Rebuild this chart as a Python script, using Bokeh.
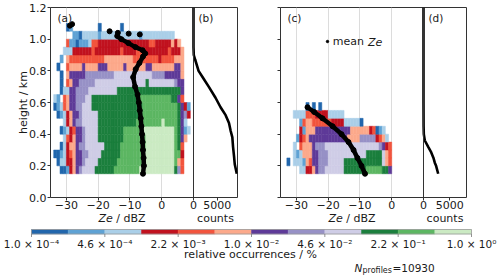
from bokeh.plotting import figure
from bokeh.models import (Range1d, FixedTicker, Span, Label, Legend, LegendItem,
                          ColumnDataSource, PrintfTickFormatter)
from bokeh.core.properties import value
from bokeh.layouts import row, column
from bokeh.embed import file_html
from bokeh.resources import INLINE

FONT = "DejaVu Sans"

# ---------------- data ----------------
ze_bin_start = -35.0          # lower edge of first Ze bin (dBZ)
ze_bin_width = 1.0
height_bin_start = 0.15       # lower edge of first height bin (km)
height_bin_width = 0.05
ze_limits = (-35, 10)
height_limits = (0.0, 1.2)

# 12 classes of relative occurrence (log spaced, 1e-4 ... 1e0)
level_colors = ["#2166ac", "#5fa2d4", "#aacfe8",
                "#c1121f", "#f2543d", "#fca98b",
                "#5e3a98", "#9791c6", "#cfcde6",
                "#1b7f3d", "#5cb662", "#cbeac3"]
colorbar_tick_index = [0, 2, 4, 6, 8, 10, 12]
colorbar_tick_labels = ["1.0 × 10⁻⁴", "4.6 × 10⁻⁴", "2.2 × 10⁻³", "1.0 × 10⁻²",
                        "4.6 × 10⁻²", "2.2 × 10⁻¹", "1.0 × 10⁰"]

ze_ticks = [-30, -20, -10, 0]
ze_tick_labels = ["−30", "−20", "−10", "0"]
height_ticks = [0.0, 0.2, 0.4, 0.6, 0.8, 1.0, 1.2]
count_ticks = [0, 5000]

# CFAD occurrence class per (height row, Ze bin); run-length coded,
# token = <count><class>, class '.' = empty, '1'..'9','a','b','c' = class 1..12
# rows from bottom (0.15 km) upwards, bins from -35 dBZ
occ_a = [
    "3. 21 12 14 16 17 18 49 6a 8b 11c 1a 18 15",
    "2. 11 23 24 16 27 18 49 6a 8b 10c 1b 16 15",
    "1. 21 12 13 14 15 16 27 28 49 6a 7b 10c 2b 14",
    "3. 11 13 14 26 17 28 69 5a 8b 9c 1b 1a 15",
    "4. 13 15 14 16 27 18 49 8a 7b 9c 1b 1a 17 16",
    "3. 11 12 13 14 15 27 18 49 8a 6b 10c 1b 1a 17 12 13",
    "4. 13 14 16 17 28 59 12a 8b 1c 4b 1a 17 13",
    "2. 11 12 13 14 16 27 18 59 14a 11b 1a 17 18 14",
    "1. 11 12 13 15 16 27 28 39 16a 11b 1a 17 14 12",
    "1. 13 12 1. 15 16 27 38 29 15a 10b 2a 17 15",
    "3. 11 13 13 17 17 48 99 20a 17",
    "3. 11 1. 15 16 27 58 169 1a 89 18 27",
    "3. 11 1. 16 57 98 129 48 57 16",
    "2. 11 2. 15 46 17 46 37 56 17 66 27 76 27 16",
    "3. 12 1. 16 115 96 85 14 45 36",
    "4. 33 64 15 84 15 44 25 84 15 34 16",
    "5. 15 22 11 32 13 25 164 25 54 16 14 16",
    "7. 22 11 53 12 53 12 63 12 103",
    "5. 11 12 8. 11 6. 11",
]
occ_c = [
    "6. 23 24 16 17 28 69 7a 5b 2a 17",
    "2. 11 1. 33 12 16 15 27 38 59 12a 19 16 15",
    "4. 13 12 13 36 27 38 129 5a 19 16 15",
    "4. 13 1. 15 36 17 38 179 18 17 14 15",
    "5. 12 14 15 16 127 46 58 14 15 16 13",
    "6. 14 12 36 117 66 14 15 11 12 13",
    "6. 12 15 26 65 44 53 11",
    "4. 43 35 44 53",
    "8. 11 1. 11 1. 11",
]

# mean Ze profiles
mean_a_height = [0.15, 0.20, 0.25, 0.30, 0.35, 0.40, 0.45, 0.50, 0.55, 0.60, 0.65,
                 0.70, 0.76, 0.81, 0.85, 0.89, 0.91, 0.93, 0.95, 0.975, 1.00, 1.02]
mean_a_ze = [-5.9, -5.6, -5.7, -5.9, -6.0, -6.2, -6.4, -6.6, -6.9, -7.2, -7.6,
             -8.4, -9.0, -8.2, -7.0, -5.9, -5.2, -6.0, -8.3, -10.5, -12.7, -14.0]
mean_a_sparse_height = [1.05, 1.04, 1.035, 1.03, 1.085, 1.095]
mean_a_sparse_ze = [-16.4, -13.8, -10.4, -6.9, -28.9, -28.2]
mean_c_height = [0.57, 0.54, 0.50, 0.45, 0.40, 0.35, 0.30, 0.25, 0.20, 0.15]
mean_c_ze = [-26.5, -24.4, -21.8, -18.6, -15.8, -13.6, -12.0, -10.8, -9.5, -8.4]

# number of profiles per height
count_b_height = [1.20, 0.95, 0.90, 0.87, 0.80, 0.75, 0.70, 0.63, 0.57, 0.52,
                  0.47, 0.42, 0.38, 0.32, 0.26, 0.21, 0.15]
count_b = [0, 0, 60, 360, 1070, 2140, 3210, 4650, 5720, 6790,
           7500, 7860, 8210, 8360, 8570, 8720, 9150]
count_b_max = 9300
count_d_height = [1.20, 0.60, 0.45, 0.40, 0.36, 0.32, 0.29, 0.25, 0.22, 0.20, 0.15]
count_d = [0, 0, 20, 60, 250, 900, 1400, 1900, 2150, 2400, 2800]
count_d_max = 8200
n_profiles = 10930

CODES = "123456789abc"

# ---------------- layout geometry (px) ----------------
W, H = 500, 275
FRAME_TOP, FH = 7, 190
AX_BOTTOM = 16                      # x tick + tick-label band under the panels
A_LEFT, A_W, B_W = 50, 143, 44
C_LEFT, C_W, D_W = 280, 143, 43
TOP_H = FRAME_TOP + FH + AX_BOTTOM
AB_W = 250
CBAR_LEFT, CBAR_W = 31, 440
CBAR_Y0, CBAR_Y1 = 229, 233.5


def decode(rows):
    left, right, bottom, top, color = [], [], [], [], []
    for r, rowstr in enumerate(rows):
        i = 0
        for tok in rowstr.split():
            n, ch = int(tok[:-1]), tok[-1]
            for _ in range(n):
                if ch != ".":
                    lv = CODES.index(ch)
                    left.append(ze_bin_start + i * ze_bin_width)
                    right.append(ze_bin_start + (i + 1) * ze_bin_width)
                    bottom.append(height_bin_start + r * height_bin_width)
                    top.append(height_bin_start + (r + 1) * height_bin_width)
                    color.append(level_colors[lv])
                i += 1
    return ColumnDataSource(dict(left=left, right=right, bottom=bottom, top=top, color=color))


def style_axis(ax):
    ax.axis_line_color = None
    ax.major_tick_out = 3
    ax.major_tick_in = 0
    ax.minor_tick_line_color = None
    ax.major_tick_line_color = "#333333"
    ax.major_label_text_font = FONT
    ax.major_label_text_font_size = "11px"
    ax.major_label_text_color = "#1a1a1a"
    ax.major_label_standoff = 0


def label(p, s, x, y, xu="screen", yu="screen", size="11px", align="left",
          baseline="middle", style="normal"):
    p.add_layout(Label(x=x, y=y, x_units=xu, y_units=yu, text=s, text_font=FONT,
                       text_font_size=size, text_align=align, text_baseline=baseline,
                       text_font_style=style, text_color="#1a1a1a"))


def panel(fw_main, fw_side, count_max, border_left, border_right, ylabels,
          occ, mean_h, mean_z, cnt_h, cnt, tags):
    fw = fw_main + fw_side
    z0, z1 = ze_limits
    x_end = z0 + (z1 - z0) * fw / fw_main
    p = figure(frame_width=fw, frame_height=FH, min_border_left=border_left,
               min_border_right=border_right, min_border_top=FRAME_TOP,
               min_border_bottom=AX_BOTTOM,
               x_range=Range1d(z0, x_end), y_range=Range1d(*height_limits),
               output_backend="svg", toolbar_location=None)
    p.extra_x_ranges = {"counts": Range1d(-count_max * fw_main / fw_side, count_max)}
    p.outline_line_color = "#333333"
    p.outline_line_width = 1

    def ze_of_count(c):
        return z1 + c / count_max * fw_side / fw_main * (z1 - z0)

    ticks = ze_ticks + [ze_of_count(c) for c in count_ticks]
    labels = ze_tick_labels + [str(c) for c in count_ticks]
    style_axis(p.xaxis[0])
    style_axis(p.yaxis[0])
    p.xaxis.ticker = FixedTicker(ticks=ticks)
    p.xaxis.major_label_overrides = dict(zip(ticks, labels))
    p.yaxis.ticker = FixedTicker(ticks=height_ticks)
    p.yaxis.formatter = PrintfTickFormatter(format="%.1f")
    p.yaxis.major_label_standoff = 1
    if ylabels:
        p.yaxis.axis_label = "height / km"
        p.yaxis.axis_label_text_font = FONT
        p.yaxis.axis_label_text_font_size = "11px"
        p.yaxis.axis_label_text_font_style = "normal"
        p.yaxis.axis_label_text_color = "#1a1a1a"
        p.yaxis.axis_label_standoff = -4
    else:
        p.yaxis.major_label_text_color = None

    p.ygrid.visible = False
    p.xgrid.ticker = FixedTicker(ticks=ze_ticks)
    p.xgrid.grid_line_color = "#dcdcdc"
    p.xgrid.grid_line_width = 1

    src = decode(occ)
    p.quad(left="left", right="right", bottom="bottom", top="top", source=src,
           fill_color="color", line_color="color", line_width=0.5)

    p.add_layout(Span(location=z1, dimension="height", line_color="#333333", line_width=1))

    p.line(mean_z, mean_h, line_color="black", line_width=4.5,
           line_join="round", line_cap="round")
    dots = p.scatter(mean_z, mean_h, size=5, color="black")

    p.line(cnt, cnt_h, x_range_name="counts", line_color="black", line_width=2.6)

    label(p, tags[0], 7, FH - 4, baseline="top", size="10.5px")
    label(p, tags[1], fw_main + 5, FH - 4, baseline="top", size="10.5px")
    return p, dots


ab, dots_a = panel(A_W, B_W, count_b_max, A_LEFT, AB_W - A_LEFT - A_W - B_W, True,
                   occ_a, mean_a_height, mean_a_ze, count_b_height, count_b, ("(a)", "(b)"))
ab.scatter(mean_a_sparse_ze, mean_a_sparse_height, size=5, color="black")

cd, dots_c = panel(C_W, D_W, count_d_max, C_LEFT - AB_W, W - C_LEFT - C_W - D_W, False,
                   occ_c, mean_c_height, mean_c_ze, count_d_height, count_d, ("(c)", "(d)"))

legend = Legend(items=[LegendItem(label="mean", renderers=[dots_c])],
                location=(43.7, 149.3), padding=0, margin=0, spacing=0,
                glyph_width=6, glyph_height=12, label_height=12, label_standoff=3,
                label_text_font=FONT, label_text_font_size="11px",
                label_text_color="#1a1a1a",
                border_line_color=None, background_fill_alpha=0)
cd.add_layout(legend)
label(cd, "Ze", 87.4, 155.3, style="italic")

# ---------------- bottom band: axis titles + colour bar ----------------
n_cls = len(level_colors)
px_per_cls = CBAR_W / n_cls
cb = figure(frame_width=W, frame_height=H - TOP_H, min_border_left=0, min_border_right=0,
            min_border_top=0, min_border_bottom=0,
            x_range=Range1d(-CBAR_LEFT / px_per_cls, n_cls + (W - CBAR_LEFT - CBAR_W) / px_per_cls),
            y_range=Range1d(H, TOP_H), x_axis_type=None, y_axis_type=None,
            output_backend="svg", toolbar_location=None)
cb.outline_line_color = None
class_index = list(range(n_cls))
cb.quad(left=class_index, right=[k + 1 for k in class_index], top=CBAR_Y0, bottom=CBAR_Y1,
        fill_color=level_colors, line_color=level_colors, line_width=0.5)
cb.quad(left=[0], right=[n_cls], top=CBAR_Y0, bottom=CBAR_Y1, fill_color=None,
        line_color="#9a9a9a", line_width=0.8)
cb.segment(x0=colorbar_tick_index, y0=CBAR_Y1, x1=colorbar_tick_index, y1=CBAR_Y1 + 3,
           line_color="#777777", line_width=0.8)
cb.text(x=colorbar_tick_index, y=CBAR_Y1 + 3.5, text=colorbar_tick_labels,
        text_font=value(FONT), text_font_size=value("10.5px"), text_align="center",
        text_baseline="top", text_color="#1a1a1a")

TITLE_Y = 217.5


def ze_title(center_x):
    label(cb, "Ze", center_x - 9.25, TITLE_Y, yu="data", align="right", style="italic")
    label(cb, "/ dBZ", center_x - 5.75, TITLE_Y, yu="data", align="left")


ze_title(A_LEFT + A_W / 2)
ze_title(C_LEFT + C_W / 2)
label(cb, "counts", A_LEFT + A_W + B_W / 2, TITLE_Y, yu="data", align="center")
label(cb, "counts", C_LEFT + C_W + D_W / 2, TITLE_Y, yu="data", align="center")

label(cb, "relative occurrences / %", 250, 253.5, yu="data", align="center")
label(cb, "N", 354, 267.5, yu="data", baseline="middle", style="italic", size="10.5px")
label(cb, "profiles", 362, 269.5, yu="data", baseline="middle", size="8px")
label(cb, "=" + str(n_profiles), 392, 267.5, yu="data", baseline="middle", size="10.5px")

layout = column(row(ab, cd), cb)

open("out.html", "w").write(file_html(layout, INLINE))
